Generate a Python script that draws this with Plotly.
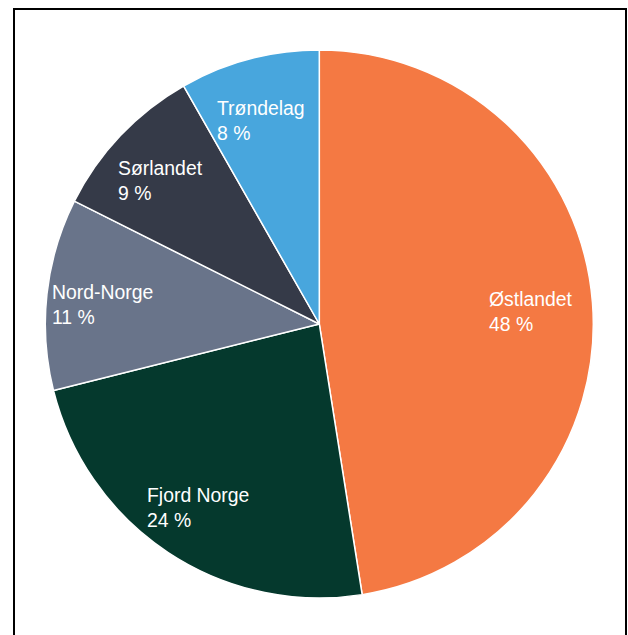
import math
import plotly.graph_objects as go

# Data
regions = ["Østlandet", "Fjord Norge", "Nord-Norge", "Sørlandet", "Trøndelag"]
shares = [47.5, 23.6, 11.3, 9.35, 8.25]
pct_labels = [48, 24, 11, 9, 8]
colors = ["#F47943", "#05392D", "#69748A", "#353A48", "#48A6DD"]

W, H = 628, 635
# pie box in pixels
px0, px1 = 45.3, 593.3
py0, py1 = 50.0, 598.0
R = (px1 - px0) / 2
cxp = (px0 + px1) / 2
cyp = (py0 + py1) / 2

fig = go.Figure(go.Pie(
    labels=regions,
    values=shares,
    sort=False,
    direction="clockwise",
    rotation=0,
    marker=dict(colors=colors, line=dict(color="white", width=1.5)),
    textinfo="none",
    hoverinfo="skip",
    showlegend=False,
    domain=dict(x=[px0 / W, px1 / W], y=[1 - py1 / H, 1 - py0 / H]),
))

# labels: placed along each slice's mid-angle
total = sum(shares)
cum = 0.0
label_r = 0.785 * R
for name, v, p in zip(regions, shares, pct_labels):
    mid = (cum + v / 2) / total * 2 * math.pi
    cum += v
    x = cxp + label_r * math.sin(mid) - 3
    y = cyp - label_r * math.cos(mid) + 4
    fig.add_annotation(
        x=x / W, y=1 - y / H, xref="paper", yref="paper",
        text=f"{name}<br>{p} %", showarrow=False,
        xanchor="center", yanchor="middle", align="left",
        font=dict(family="Arial, Liberation Sans, sans-serif", size=19.4, color="white"),
    )

# outer frame
fig.add_shape(type="rect", xref="paper", yref="paper",
              x0=14 / W, x1=626 / W, y0=-0.05, y1=1 - 9 / H,
              line=dict(color="black", width=2), fillcolor="rgba(0,0,0,0)")

fig.update_layout(
    width=W, height=H,
    margin=dict(l=0, r=0, t=0, b=0),
    paper_bgcolor="white",
    plot_bgcolor="white",
)

fig.write_html(
    "out.html",
    config={"displayModeBar": False},
    post_script="document.body.style.margin='0';",
)
